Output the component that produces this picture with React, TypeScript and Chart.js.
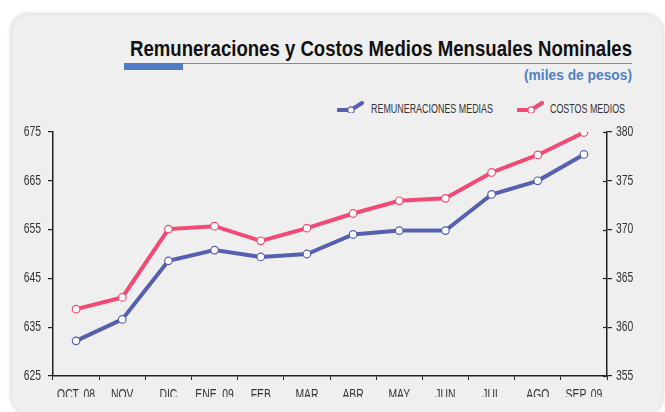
import React, { useEffect, useLayoutEffect, useRef } from "react";
import { Chart, registerables } from "chart.js";

Chart.register(...registerables);

const categories = ["OCT. 08", "NOV", "DIC", "ENE. 09", "FEB", "MAR", "ABR", "MAY", "JUN", "JUL", "AGO", "SEP. 09"];
const costosMedios = [638.7, 641.1, 655.1, 655.7, 652.7, 655.3, 658.3, 660.9, 661.4, 666.7, 670.3, 674.9];
const remuneracionesMedias = [358.6, 360.8, 366.8, 367.9, 367.2, 367.5, 369.5, 369.9, 369.9, 373.6, 375.0, 377.7];
const leftTicks = [625, 635, 645, 655, 665, 675];
const rightTicks = [355, 360, 365, 370, 375, 380];

const PINK = "#f24a73";
const BLUE = "#5660b1";
const FONT = "'Liberation Sans', Arial, sans-serif";
const NARROW = 0.74;

// Draws axis tick labels in a condensed (horizontally scaled) face
const narrowLabels = {
  id: "narrowLabels",
  afterDraw(chart: any) {
    const ctx = chart.ctx;
    const { x, yL, yR } = chart.scales;
    ctx.save();
    ctx.fillStyle = "#333";
    ctx.font = `14px ${FONT}`;
    const draw = (text: string, px: number, py: number, align: CanvasTextAlign, base: CanvasTextBaseline) => {
      ctx.save();
      ctx.translate(px, py);
      ctx.scale(NARROW, 1);
      ctx.textAlign = align;
      ctx.textBaseline = base;
      ctx.fillText(text, 0, 0);
      ctx.restore();
    };
    yL.ticks.forEach((t: any) => draw(String(t.value), yL.right - 12, yL.getPixelForValue(t.value), "right", "middle"));
    yR.ticks.forEach((t: any) => draw(String(t.value), yR.left + 9, yR.getPixelForValue(t.value), "left", "middle"));
    categories.forEach((c, i) => draw(c, x.getPixelForValue(i), x.top + 12, "center", "top"));
    // inner half of the right-axis ticks (they cross the axis)
    ctx.strokeStyle = "#222";
    ctx.lineWidth = 1.2;
    yR.ticks.forEach((t: any) => {
      const y = Math.round(yR.getPixelForValue(t.value)) + 0.5;
      ctx.beginPath();
      ctx.moveTo(yR.left - 4, y);
      ctx.lineTo(yR.left, y);
      ctx.stroke();
    });
    ctx.restore();
  },
};

function FitText({ text, width, style }: { text: string; width: number; style: React.CSSProperties }) {
  const ref = useRef<HTMLSpanElement>(null);
  useLayoutEffect(() => {
    const el = ref.current;
    if (!el) return;
    el.style.transform = "none";
    const w = el.getBoundingClientRect().width;
    if (w > 0) el.style.transform = `scaleX(${width / w})`;
  }, [text, width]);
  return (
    <span ref={ref} style={{ position: "absolute", whiteSpace: "nowrap", display: "inline-block", transformOrigin: "left center", ...style }}>
      {text}
    </span>
  );
}

function LegendIcon({ color, left, top }: { color: string; left: number; top: number }) {
  return (
    <svg width="27" height="12" viewBox="0 0 27 12" style={{ position: "absolute", left, top, display: "block" }}>
      <path d="M1.5 9 L14 9 L25 2" stroke={color} strokeWidth="4" fill="none" strokeLinecap="round" />
      <circle cx="14" cy="9" r="3.2" fill="#fff" stroke={color} strokeWidth="1.2" />
    </svg>
  );
}

export default function App() {
  const ref = useRef<HTMLCanvasElement>(null);

  useEffect(() => {
    if (!ref.current) return;
    const ds = (label: string, data: number[], axis: string, color: string) => ({
      label,
      data,
      yAxisID: axis,
      borderColor: color,
      backgroundColor: "#fff",
      borderWidth: 4,
      pointRadius: 3.8,
      pointBorderWidth: 1.2,
      pointBorderColor: color,
      pointBackgroundColor: "#fff",
      tension: 0,
    });
    const chart = new Chart(ref.current, {
      type: "line",
      data: {
        labels: categories,
        datasets: [
          ds("REMUNERACIONES MEDIAS", remuneracionesMedias, "yR", BLUE),
          ds("COSTOS MEDIOS", costosMedios, "yL", PINK),
        ],
      },
      options: {
        animation: false,
        responsive: false,
        devicePixelRatio: 1,
        layout: { padding: { top: 132, left: 0, right: 0, bottom: 0 } },
        plugins: { legend: { display: false }, tooltip: { enabled: false }, title: { display: false } },
        scales: {
          x: {
            offset: true,
            grid: { offset: true, drawOnChartArea: false, tickLength: 4, color: "#222", lineWidth: 1 },
            border: { color: "#222", width: 1.5 },
            ticks: { display: false },
            afterFit: (s: any) => { s.height = 21; },
          },
          yL: {
            position: "left",
            min: 625,
            max: 675,
            afterBuildTicks: (s: any) => { s.ticks = leftTicks.map((v) => ({ value: v })); },
            grid: { drawOnChartArea: false, tickLength: 5, color: "#222", lineWidth: 1.2 },
            border: { color: "#222", width: 1.5 },
            ticks: { display: false },
            afterFit: (s: any) => { s.width = 53; },
          },
          yR: {
            position: "right",
            min: 355,
            max: 380,
            afterBuildTicks: (s: any) => { s.ticks = rightTicks.map((v) => ({ value: v })); },
            grid: { drawOnChartArea: false, tickLength: 5, color: "#222", lineWidth: 1.2 },
            border: { color: "#222", width: 1.5 },
            ticks: { display: false },
            afterFit: (s: any) => { s.width = 58; },
          },
        },
      },
      plugins: [narrowLabels],
    });
    return () => chart.destroy();
  }, []);

  return (
    <div style={{ position: "fixed", left: 0, top: 0, width: 665, height: 412, overflow: "hidden", background: "#fff" }}>
      <div
        style={{
          position: "absolute",
          left: 12,
          top: 15,
          width: 650,
          height: 398,
          borderRadius: 16,
          background: "#efefef",
          boxShadow: "0 0 4px 1px rgba(0,0,0,0.18)",
        }}
      />
      <FitText
        text="Remuneraciones y Costos Medios Mensuales Nominales"
        width={502}
        style={{ left: 130, top: 36, fontFamily: FONT, fontWeight: "bold", fontSize: 22, lineHeight: "26px", color: "#111" }}
      />
      <div style={{ position: "absolute", left: 183, top: 63, width: 449, height: 1, background: "#888" }} />
      <div style={{ position: "absolute", left: 124, top: 63, width: 59, height: 7, background: "#4f7cc4" }} />
      <FitText
        text="(miles de pesos)"
        width={108}
        style={{ left: 524, top: 66, fontFamily: FONT, fontWeight: "bold", fontSize: 15, lineHeight: "18px", color: "#4f7fc6" }}
      />
      <LegendIcon color={BLUE} left={337} top={101} />
      <FitText
        text="REMUNERACIONES MEDIAS"
        width={122}
        style={{ left: 371, top: 102, fontFamily: FONT, fontSize: 12.5, lineHeight: "15px", color: "#333" }}
      />
      <LegendIcon color={PINK} left={517} top={101} />
      <FitText
        text="COSTOS MEDIOS"
        width={75}
        style={{ left: 550, top: 102, fontFamily: FONT, fontSize: 12.5, lineHeight: "15px", color: "#333" }}
      />
      <canvas ref={ref} width={665} height={397} style={{ position: "absolute", left: 0, top: 0, width: 665, height: 397 }} />
    </div>
  );
}
